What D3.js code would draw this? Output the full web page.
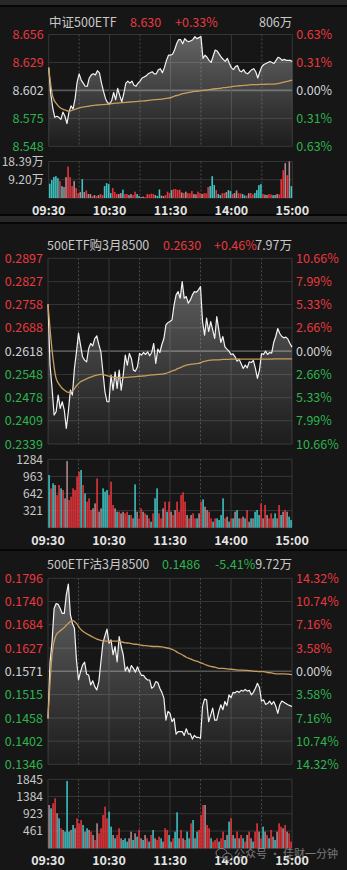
<!DOCTYPE html>
<html>
<head>
<meta charset="utf-8">
<script src="https://cdn.jsdelivr.net/npm/d3@7"></script>
<style>
  html, body { margin: 0; padding: 0; background: #161616; }
  svg { display: block; }
</style>
</head>
<body>
<script>
// ---- shared time axis (minutes after 09:30, lunch break removed) ----
const TIME_TICKS = [0, 60, 120, 180, 240];
const TIME_LABELS = ["09:30", "10:30", "11:30", "14:00", "15:00"];
const HALF_TICKS = [30, 90, 150, 210];

// ---- panel 1: 中证500ETF ----
const p1Title = ["中证500ETF", "8.630", "+0.33%", "806万"];
const p1Left = ["8.656", "8.629", "8.602", "8.575", "8.548"];
const p1Right = ["0.63%", "0.31%", "0.00%", "0.31%", "0.63%"];
const p1Base = 8.602;
// price every 2 minutes
const p1Price = [
  8.624, 8.599, 8.585, 8.576, 8.577, 8.576, 8.574, 8.581, 8.577, 8.570,
  8.581, 8.587, 8.584, 8.594, 8.610, 8.618, 8.612, 8.609, 8.606, 8.606,
  8.614, 8.617, 8.618, 8.617, 8.621, 8.619, 8.609, 8.601, 8.594, 8.590,
  8.589, 8.592, 8.600, 8.593, 8.604, 8.597, 8.591, 8.599, 8.609, 8.611,
  8.609, 8.611, 8.607, 8.606, 8.609, 8.611, 8.614, 8.615, 8.616, 8.618,
  8.619, 8.620, 8.618, 8.618, 8.622, 8.623, 8.619, 8.624, 8.631, 8.636,
  8.636, 8.637, 8.641, 8.647, 8.651, 8.651, 8.647, 8.652, 8.650, 8.649,
  8.650, 8.651, 8.654, 8.652, 8.653, 8.654, 8.633, 8.636, 8.634, 8.631,
  8.629, 8.635, 8.641, 8.640, 8.637, 8.634, 8.632, 8.630, 8.633, 8.628,
  8.624, 8.622, 8.625, 8.626, 8.621, 8.620, 8.622, 8.619, 8.618, 8.620,
  8.622, 8.623, 8.620, 8.614, 8.620, 8.625, 8.627, 8.628, 8.629, 8.630,
  8.629, 8.628, 8.631, 8.634, 8.633, 8.631, 8.632, 8.631, 8.631, 8.631,
  8.630
];
// average price every 4 minutes
const p1Avg = [
  8.6240, 8.5959, 8.5888, 8.5847, 8.5831, 8.5818, 8.5831, 8.5843, 8.5856, 8.5863,
  8.5869, 8.5876, 8.5879, 8.5882, 8.5885, 8.5888, 8.5895, 8.5898, 8.5901, 8.5904,
  8.5908, 8.5911, 8.5914, 8.5917, 8.5920, 8.5927, 8.5930, 8.5933, 8.5936, 8.5943,
  8.5949, 8.5965, 8.5975, 8.5988, 8.5997, 8.6004, 8.6010, 8.6014, 8.6020, 8.6023,
  8.6030, 8.6036, 8.6039, 8.6046, 8.6049, 8.6055, 8.6062, 8.6065, 8.6068, 8.6071,
  8.6075, 8.6075, 8.6078, 8.6078, 8.6081, 8.6081, 8.6084, 8.6091, 8.6100, 8.6110,
  8.6119
];
const p1VolTicks = [18.39, 9.20];
const p1VolLabels = ["18.39万", "9.20万"];
const p1VolMax = 18.39;
// volume (万) every 2 minutes
const p1Vol = [
  7.2, 9, 10.6, 11, 10, 8.5, 6, 5.5, 10.5, 15.8,
  10.5, 6, 8.5, 5, 2.5, 3, 9.5, 3, 3.8, 2,
  2, 1, 1.5, 1, 1.5, 2, 1.5, 6, 7.5, 7,
  2.5, 5, 3, 2, 2, 2.5, 4.2, 2, 2, 1.5,
  2, 1.5, 3.2, 2, 1, 0.5, 0.7, 0.5, 2, 1.8,
  2.2, 2, 1.5, 1, 4.3, 1.2, 1, 1.5, 3.2, 2.5,
  4, 4.5, 4.5, 4, 4.2, 2.8, 2.5, 3.2, 2.5, 2.3,
  3.5, 2, 1.8, 3.2, 2.5, 2, 2.4, 2.4, 5.5, 6,
  11, 6.5, 4, 2, 1.5, 2.5, 2.5, 3, 4, 3.5,
  2, 2.5, 3.8, 2.4, 2.3, 2, 1.3, 1.2, 2.4, 2.5,
  1.8, 2.5, 4, 6.5, 7, 2, 1.7, 1.5, 2, 1.8,
  1.4, 1.5, 2, 1.8, 9.5, 14, 17.6, 11.5, 18.39, 6
];
// r = up, c = down, g = mixed
const p1Col = ("cccccrcggr" + "rrgrrgcgrg" + "grgrgrrccc" + "crrrggcrrg" + "grrcgggrrr" + "rrgccggrrr" +
  "crrrrgrgrr" + "rggrrgrrrc" + "ccrccrrgcc" + "rggrrccrgr" + "rccccrggrr" + "cggrrrgrgc").split("");

// ---- panel 2: 500ETF购3月8500 ----
const p2Title = ["500ETF购3月8500", "0.2630", "+0.46%", "7.97万"];
const p2Left = ["0.2897", "0.2827", "0.2758", "0.2688", "0.2618", "0.2548", "0.2478", "0.2409", "0.2339"];
const p2Right = ["10.66%", "7.99%", "5.33%", "2.66%", "0.00%", "2.66%", "5.33%", "7.99%", "10.66%"];
const p2Base = 0.2618;
const p2Price = [
  0.2759, 0.2576, 0.2506, 0.2426, 0.2436, 0.2486, 0.2446, 0.2466, 0.2441, 0.2386,
  0.2436, 0.2501, 0.2486, 0.2566, 0.2616, 0.2672, 0.2636, 0.2601, 0.2591, 0.2586,
  0.2626, 0.2641, 0.2634, 0.2656, 0.2664, 0.2638, 0.2616, 0.2556, 0.2496, 0.2466,
  0.2466, 0.2546, 0.2501, 0.2556, 0.2506, 0.2561, 0.2501, 0.2546, 0.2606, 0.2576,
  0.2611, 0.2596, 0.2561, 0.2558, 0.2571, 0.2611, 0.2606, 0.2614, 0.2608, 0.2616,
  0.2604, 0.2614, 0.2641, 0.2581, 0.2624, 0.2614, 0.2638, 0.2656, 0.2697, 0.2704,
  0.2707, 0.2712, 0.2757, 0.2787, 0.2797, 0.2777, 0.2827, 0.2777, 0.2782, 0.2762,
  0.2772, 0.2787, 0.2797, 0.2795, 0.2802, 0.2812, 0.2707, 0.2666, 0.2717, 0.2677,
  0.2707, 0.2682, 0.2656, 0.2722, 0.2682, 0.2644, 0.2662, 0.2631, 0.2624, 0.2618,
  0.2608, 0.2610, 0.2601, 0.2588, 0.2594, 0.2580, 0.2566, 0.2576, 0.2568, 0.2586,
  0.2584, 0.2590, 0.2566, 0.2536, 0.2561, 0.2611, 0.2608, 0.2618, 0.2608, 0.2614,
  0.2612, 0.2644, 0.2662, 0.2686, 0.2671, 0.2662, 0.2658, 0.2660, 0.2654, 0.2641,
  0.2630
];
const p2Avg = [
  0.2759, 0.2621, 0.2536, 0.2514, 0.2501, 0.2494, 0.2498, 0.2514, 0.2526, 0.2532,
  0.2538, 0.2542, 0.2546, 0.2548, 0.2546, 0.2543, 0.2540, 0.2539, 0.2538, 0.2539,
  0.2540, 0.2541, 0.2542, 0.2543, 0.2544, 0.2546, 0.2547, 0.2548, 0.2549, 0.2551,
  0.2556, 0.2560, 0.2566, 0.2571, 0.2576, 0.2578, 0.2580, 0.2581, 0.2586, 0.2589,
  0.2591, 0.2592, 0.2592, 0.2593, 0.2593, 0.2594, 0.2594, 0.2594, 0.2594, 0.2594,
  0.2594, 0.2594, 0.2594, 0.2594, 0.2594, 0.2594, 0.2595, 0.2595, 0.2595, 0.2595,
  0.2595
];
const p2VolTicks = [1284, 963, 642, 321];
const p2VolLabels = ["1284", "963", "642", "321"];
const p2VolMax = 1284;
const p2Vol = [
  989, 739, 833, 801, 613, 801, 739, 707, 551, 1250,
  520, 582, 739, 707, 958, 1052, 1083, 801, 645, 488,
  551, 332, 363, 457, 926, 300, 363, 739, 676, 707,
  613, 864, 426, 363, 300, 300, 269, 300, 269, 300,
  238, 238, 175, 814, 300, 175, 363, 300, 269, 238,
  175, 113, 269, 551, 739, 269, 175, 363, 488, 300,
  488, 300, 238, 332, 488, 300, 613, 664, 488, 238,
  175, 238, 269, 175, 175, 269, 488, 532, 394, 332,
  300, 175, 113, 175, 175, 144, 238, 551, 175, 207,
  113, 175, 175, 300, 332, 175, 175, 207, 175, 332,
  113, 175, 175, 300, 332, 238, 457, 175, 426, 238,
  175, 269, 175, 269, 175, 426, 238, 300, 332, 300,
  207, 144
];
const p2Col = ("crcgrrcrgg" + "rrrrrrcrcr" + "rrggrggccc" + "rrrgcrggrr" + "crgcgrrgrg" + "rcrccrrgrc" +
  "rgrgrrrrrg" + "rgrrcgrcgg" + "rrcrccccrg" + "crcgcgrgcr" + "gcgcccrgrg" + "rrgcgrcgrg" + "cc").split("");

// ---- panel 3: 500ETF沽3月8500 ----
const p3Title = ["500ETF沽3月8500", "0.1486", "-5.41%", "9.72万"];
const p3Left = ["0.1796", "0.1740", "0.1684", "0.1627", "0.1571", "0.1515", "0.1458", "0.1402", "0.1346"];
const p3Right = ["14.32%", "10.74%", "7.16%", "3.58%", "0.00%", "3.58%", "7.16%", "10.74%", "14.32%"];
const p3Base = 0.1571;
const p3Price = [
  0.1457, 0.1593, 0.1643, 0.1723, 0.1735, 0.1733, 0.1723, 0.1711, 0.1711, 0.1756,
  0.1782, 0.1709, 0.1687, 0.1675, 0.1598, 0.1550, 0.1570, 0.1586, 0.1593, 0.1564,
  0.1562, 0.1538, 0.1548, 0.1534, 0.1526, 0.1546, 0.1593, 0.1639, 0.1657, 0.1673,
  0.1639, 0.1647, 0.1611, 0.1631, 0.1594, 0.1655, 0.1631, 0.1611, 0.1572, 0.1582,
  0.1569, 0.1585, 0.1578, 0.1569, 0.1582, 0.1570, 0.1561, 0.1561, 0.1554, 0.1550,
  0.1550, 0.1530, 0.1534, 0.1546, 0.1544, 0.1530, 0.1520, 0.1506, 0.1453, 0.1474,
  0.1469, 0.1449, 0.1457, 0.1419, 0.1425, 0.1425, 0.1425, 0.1416, 0.1432, 0.1419,
  0.1420, 0.1407, 0.1416, 0.1411, 0.1411, 0.1409, 0.1486, 0.1504, 0.1502, 0.1449,
  0.1465, 0.1482, 0.1453, 0.1453, 0.1474, 0.1490, 0.1478, 0.1498, 0.1488, 0.1514,
  0.1507, 0.1520, 0.1519, 0.1523, 0.1520, 0.1525, 0.1523, 0.1527, 0.1523, 0.1525,
  0.1514, 0.1520, 0.1530, 0.1542, 0.1532, 0.1499, 0.1502, 0.1491, 0.1493, 0.1499,
  0.1491, 0.1498, 0.1487, 0.1469, 0.1490, 0.1499, 0.1496, 0.1493, 0.1490, 0.1488,
  0.1486
];
const p3Avg = [
  0.1457, 0.1611, 0.1659, 0.1669, 0.1677, 0.1687, 0.1694, 0.1687, 0.1673, 0.1665,
  0.1659, 0.1654, 0.1649, 0.1646, 0.1644, 0.1644, 0.1644, 0.1644, 0.1642, 0.1640,
  0.1639, 0.1637, 0.1636, 0.1634, 0.1633, 0.1632, 0.1631, 0.1631, 0.1630, 0.1628,
  0.1626, 0.1622, 0.1616, 0.1611, 0.1605, 0.1601, 0.1597, 0.1594, 0.1590, 0.1586,
  0.1583, 0.1581, 0.1578, 0.1578, 0.1577, 0.1576, 0.1575, 0.1574, 0.1574, 0.1573,
  0.1572, 0.1571, 0.1570, 0.1570, 0.1568, 0.1567, 0.1565, 0.1565, 0.1565, 0.1564,
  0.1563
];
const p3VolTicks = [1845, 1384, 923, 461];
const p3VolLabels = ["1845", "1384", "923", "461"];
const p3VolMax = 1845;
const p3Vol = [
  1158, 1069, 1203, 1337, 936, 802, 535, 490, 446, 1800,
  446, 490, 624, 535, 802, 668, 757, 624, 446, 535,
  490, 446, 356, 223, 668, 401, 535, 891, 1114, 802,
  980, 579, 356, 267, 356, 535, 267, 223, 267, 178,
  267, 446, 223, 401, 312, 490, 267, 223, 356, 267,
  178, 356, 490, 267, 223, 312, 267, 178, 535, 490,
  356, 178, 267, 446, 962, 267, 490, 267, 223, 446,
  267, 668, 757, 267, 446, 490, 891, 1158, 1158, 624,
  535, 267, 178, 223, 267, 178, 267, 446, 223, 356,
  713, 802, 356, 267, 446, 267, 356, 267, 178, 356,
  446, 267, 178, 446, 668, 446, 267, 579, 446, 356,
  267, 490, 312, 223, 446, 668, 579, 535, 624, 446,
  401, 178
];
const p3Col = ("gcrrgcrgcc" + "cgcgrrrcgc" + "grgrgrrrrr" + "ccgcrrgccc" + "ggcgcrgcgr" + "crcgrrcgrr" +
  "cgrccgrgrc" + "crcgcrrrgr" + "rcrrrcrrcg" + "crgcrgrcrg" + "rgcrrgrcgr" + "crgcgrrgrg" + "rr").split("");

// ---- styling ----
const W = 347, H = 870;
const RED = "#e8393f", GREEN = "#2db34e", NEUTRAL = "#cfd3d6", TEXT = "#c8c8c8";
const BAR_COLORS = {r: "#e8353c", c: "#3ec4c4", g: "#b08a8f"};
const GRID = "#363636";
const FONT = '"Noto Sans CJK SC", "Noto Sans", sans-serif';

const svg = d3.select("body").append("svg")
  .attr("width", W).attr("height", H)
  .attr("viewBox", [0, 0, W, H])
  .style("font-family", FONT);

const defs = svg.append("defs");

// background + separators
svg.append("rect").attr("width", W).attr("height", H).attr("fill", "#161616");
svg.append("rect").attr("y", 0).attr("width", W).attr("height", 5).attr("fill", "#282828");
svg.append("rect").attr("y", 5).attr("width", W).attr("height", 2).attr("fill", "#060606");
svg.append("rect").attr("y", 214).attr("width", W).attr("height", 2).attr("fill", "#060606");
svg.append("rect").attr("y", 216).attr("width", W).attr("height", 6).attr("fill", "#282828");
svg.append("rect").attr("y", 222).attr("width", W).attr("height", 2).attr("fill", "#060606");
svg.append("rect").attr("y", 549).attr("width", W).attr("height", 2).attr("fill", "#060606");

function colorFor(v, base) {
  if (Math.abs(v - base) < 1e-9) return NEUTRAL;
  return v > base ? RED : GREEN;
}

function drawPanel(p, k) {
  const g = svg.append("g");
  const x = d3.scaleLinear().domain([0, 240]).range([p.left, p.right]);
  const leftVals = p.left_ticks.map(Number);
  const y = d3.scaleLinear().domain(d3.extent(leftVals)).range([p.bottom, p.top]);
  const yv = d3.scaleLinear().domain([0, p.volMax]).range([p.vBottom, p.vTop]);

  // --- price grid ---
  g.append("g").selectAll("line").data(leftVals).join("line")
    .attr("x1", p.left).attr("x2", p.right)
    .attr("y1", d => y(d)).attr("y2", d => y(d))
    .attr("stroke", d => Math.abs(d - p.base) < 1e-9 ? "#575757" : GRID)
    .attr("stroke-width", d => Math.abs(d - p.base) < 1e-9 ? 1.6 : 1);

  function vGrid(y0, y1) {
    g.append("g").selectAll("line").data(TIME_TICKS).join("line")
      .attr("x1", d => x(d)).attr("x2", d => x(d))
      .attr("y1", y0).attr("y2", y1)
      .attr("stroke", GRID).attr("stroke-width", 1);
    g.append("g").selectAll("line").data(HALF_TICKS).join("line")
      .attr("x1", d => x(d)).attr("x2", d => x(d))
      .attr("y1", y0).attr("y2", y1)
      .attr("stroke", "#4a4a4a").attr("stroke-width", 1)
      .attr("stroke-dasharray", "2,2");
  }
  vGrid(p.top, p.bottom);

  // --- area under price ---
  const gid = "fill" + k;
  const grad = defs.append("linearGradient").attr("id", gid)
    .attr("gradientUnits", "userSpaceOnUse")
    .attr("x1", 0).attr("x2", 0).attr("y1", p.top).attr("y2", p.bottom);
  grad.append("stop").attr("offset", 0).attr("stop-color", "#ffffff").attr("stop-opacity", 0.34);
  grad.append("stop").attr("offset", 1).attr("stop-color", "#ffffff").attr("stop-opacity", 0.03);

  const step = 240 / (p.price.length - 1);
  g.append("path").datum(p.price)
    .attr("fill", `url(#${gid})`)
    .attr("d", d3.area().x((d, i) => x(i * step)).y0(p.bottom).y1(d => y(d)));

  g.append("path").datum(p.price)
    .attr("fill", "none").attr("stroke", "#f2f2f2").attr("stroke-width", 1.2)
    .attr("stroke-linejoin", "round")
    .attr("d", d3.line().x((d, i) => x(i * step)).y(d => y(d)));

  const aStep = 240 / (p.avg.length - 1);
  g.append("path").datum(p.avg)
    .attr("fill", "none").attr("stroke", "#c89d5e").attr("stroke-width", 1.3)
    .attr("d", d3.line().curve(d3.curveMonotoneX).x((d, i) => x(i * aStep)).y(d => y(d)));

  // --- price labels ---
  g.append("g").selectAll("text").data(p.left_ticks).join("text")
    .attr("x", p.left - 5).attr("y", d => y(+d)).attr("dy", "0.36em")
    .attr("text-anchor", "end").attr("font-size", 12.5)
    .attr("fill", d => colorFor(+d, p.base)).text(d => d);
  g.append("g").selectAll("text").data(p.right_ticks).join("text")
    .attr("x", p.right + 4).attr("y", (d, i) => y(leftVals[i])).attr("dy", "0.36em")
    .attr("text-anchor", "start").attr("font-size", 12.5)
    .attr("fill", (d, i) => colorFor(leftVals[i], p.base)).text(d => d);

  // --- volume ---
  g.append("g").selectAll("line").data([0, ...p.volTicks]).join("line")
    .attr("x1", p.left).attr("x2", p.right)
    .attr("y1", d => yv(d)).attr("y2", d => yv(d))
    .attr("stroke", GRID);
  vGrid(p.vTop, p.vBottom);

  const vs = 240 / p.vol.length;
  const bw = (x(vs) - x(0)) * 0.78;
  g.append("g").selectAll("rect").data(p.vol).join("rect")
    .attr("x", (d, i) => x(i * vs) + 0.3)
    .attr("width", bw)
    .attr("y", d => yv(d))
    .attr("height", d => p.vBottom - yv(d))
    .attr("fill", (d, i) => BAR_COLORS[p.col[i]]);

  g.append("g").selectAll("text").data(p.volLabels).join("text")
    .attr("x", p.left - 5).attr("y", (d, i) => yv(p.volTicks[i])).attr("dy", "0.36em")
    .attr("text-anchor", "end").attr("font-size", 12)
    .attr("fill", TEXT).text(d => d);

  // --- time labels ---
  g.append("g").selectAll("text").data(TIME_LABELS).join("text")
    .attr("x", (d, i) => x(TIME_TICKS[i])).attr("y", p.timeY).attr("dy", "0.36em")
    .attr("text-anchor", "middle").attr("font-size", 12.5).attr("font-weight", "bold")
    .attr("fill", "#e4e4e4").text(d => d);

  // --- title row ---
  const tc = p.title[2].startsWith("-") ? GREEN : RED;
  const t = g.append("g").attr("font-size", 12.5);
  t.append("text").attr("x", p.nameX).attr("y", p.titleY).attr("dy", "0.36em")
    .attr("fill", TEXT).text(p.title[0]);
  t.append("text").attr("x", p.priceX).attr("y", p.titleY).attr("dy", "0.36em")
    .attr("fill", tc).text(p.title[1]);
  t.append("text").attr("x", p.pctX).attr("y", p.titleY).attr("dy", "0.36em")
    .attr("fill", tc).text(p.title[2]);
  t.append("text").attr("x", p.right).attr("y", p.titleY).attr("dy", "0.36em")
    .attr("text-anchor", "end").attr("fill", TEXT).text(p.title[3]);
}

drawPanel({
  title: p1Title, left_ticks: p1Left, right_ticks: p1Right, base: p1Base,
  price: p1Price, avg: p1Avg, vol: p1Vol, col: p1Col,
  volTicks: p1VolTicks, volLabels: p1VolLabels, volMax: p1VolMax,
  left: 48.7, right: 292.3, top: 34.5, bottom: 146.3, vTop: 161.5, vBottom: 198,
  timeY: 210, titleY: 22, nameX: 49, priceX: 130, pctX: 175
}, 1);

drawPanel({
  title: p2Title, left_ticks: p2Left, right_ticks: p2Right, base: p2Base,
  price: p2Price, avg: p2Avg, vol: p2Vol, col: p2Col,
  volTicks: p2VolTicks, volLabels: p2VolLabels, volMax: p2VolMax,
  left: 48, right: 292, top: 258.3, bottom: 444, vTop: 459.3, vBottom: 527.7,
  timeY: 540, titleY: 245, nameX: 47, priceX: 163, pctX: 214
}, 2);

drawPanel({
  title: p3Title, left_ticks: p3Left, right_ticks: p3Right, base: p3Base,
  price: p3Price, avg: p3Avg, vol: p3Vol, col: p3Col,
  volTicks: p3VolTicks, volLabels: p3VolLabels, volMax: p3VolMax,
  left: 48, right: 292, top: 578.3, bottom: 764.3, vTop: 779.3, vBottom: 848.3,
  timeY: 860, titleY: 564, nameX: 47, priceX: 162, pctX: 215
}, 3);

// ---- watermark ----
const wm = svg.append("g").attr("opacity", 0.5);
wm.append("ellipse").attr("cx", 221.5).attr("cy", 853).attr("rx", 5.5).attr("ry", 4.5)
  .attr("fill", "none").attr("stroke", "#e0e0e0").attr("stroke-width", 1);
wm.append("ellipse").attr("cx", 227.5).attr("cy", 857).attr("rx", 4.6).attr("ry", 3.8)
  .attr("fill", "#161616").attr("stroke", "#e0e0e0").attr("stroke-width", 1);
wm.append("text").attr("x", 234).attr("y", 854.5).attr("dy", "0.36em")
  .attr("font-size", 11).attr("fill", "#d8d8d8").text("公众号 · 佳财一分钟");
</script>
</body>
</html>
